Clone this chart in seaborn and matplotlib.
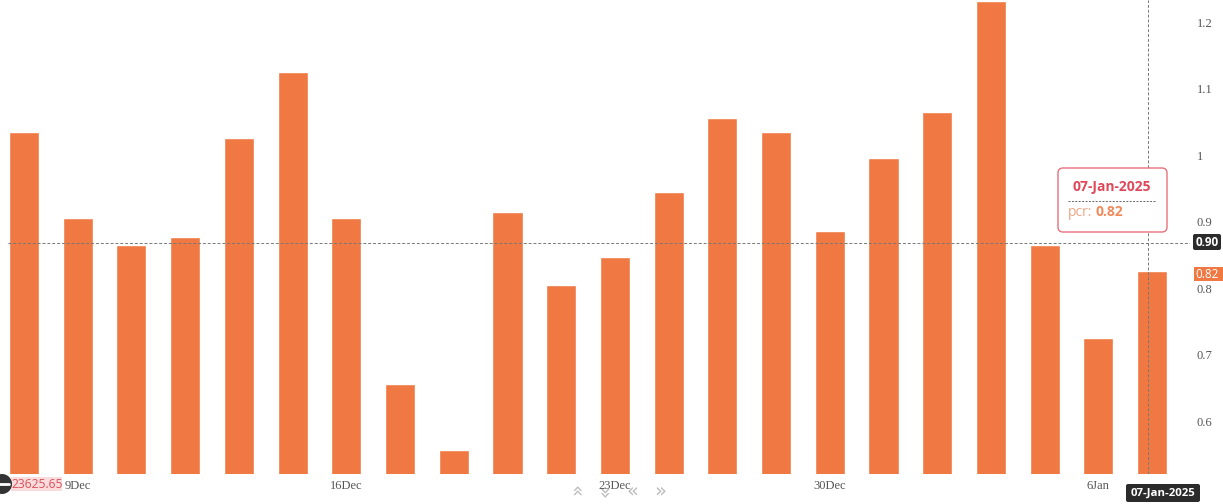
import matplotlib
matplotlib.use('Agg')
import matplotlib.pyplot as plt
from matplotlib.patches import FancyBboxPatch, Circle
import seaborn as sns
import pandas as pd

# trading days shown on the chart
dates = ['06-Dec', '09-Dec', '10-Dec', '11-Dec', '12-Dec', '13-Dec', '16-Dec', '17-Dec', '18-Dec', '19-Dec', '20-Dec',
         '23-Dec', '24-Dec', '26-Dec', '27-Dec', '30-Dec', '31-Dec', '01-Jan', '02-Jan', '03-Jan', '06-Jan', '07-Jan']
pcr = [1.035, 0.906, 0.865, 0.876, 1.025, 1.125, 0.906, 0.656, 0.557, 0.915, 0.805,
       0.846, 0.945, 1.055, 1.035, 0.885, 0.995, 1.065, 1.232, 0.865, 0.725, 0.826]
date_ticks = {'09-Dec': '9Dec', '16-Dec': '16Dec', '23-Dec': '23Dec', '30-Dec': '30Dec', '06-Jan': '6Jan'}
y_ticks = [0.6, 0.7, 0.8, 0.9, 1, 1.1, 1.2]
cross_price = 0.868
cross_date = '07-Jan'

BAR = '#F07843'
RED = '#E0485A'

sns.set_style('white')
df = pd.DataFrame({'date': dates, 'pcr': pcr})

fig = plt.figure(figsize=(12.23, 5.04), dpi=100)
ax = fig.add_axes([0, 30 / 504, 1190 / 1223, 474 / 504])
sns.barplot(data=df, x='date', y='pcr', color=BAR, saturation=1, width=0.56, ax=ax)

step = 53.72
ax.set_xlim(-24 / step, (1190 - 24) / step)
ax.set_ylim(0.5203, 1.2331)
ax.set_xlabel('')
ax.set_ylabel('')
sns.despine(ax=ax, left=True, bottom=True, right=True, top=True)

ax.yaxis.tick_right()
ax.set_yticks(y_ticks)
ax.set_yticklabels(['0.6', '0.7', '0.8', '0.9', '1', '1.1', '1.2'], family='Liberation Serif', fontsize=9, color='#555555')
ax.tick_params(axis='y', length=0, pad=5)
ax.set_xticks([dates.index(d) for d in date_ticks])
ax.set_xticklabels(list(date_ticks.values()), family='Liberation Serif', fontsize=9, color='#555555')
ax.tick_params(axis='x', length=0, pad=4)

# crosshair
ax.axhline(cross_price, color='#777777', lw=0.7, ls=(0, (3, 2)), xmin=8 / 1190)
ax.axvline(dates.index(cross_date) - 4 / step, color='#777777', lw=0.7, ls=(0, (3, 2)))

# overlay in pixel coordinates for labels and tooltip
ov = fig.add_axes([0, 0, 1, 1])
ov.set_xlim(0, 1223)
ov.set_ylim(504, 0)
ov.axis('off')
ov.patch.set_alpha(0)

ov.add_patch(FancyBboxPatch((1062, 172), 101, 56, boxstyle='round,pad=4,rounding_size=5',
                            fc='white', ec='#E8707C', lw=1.0, zorder=3))
ov.text(1112, 187.5, '07-Jan-2025', color=RED, fontsize=10, fontweight='bold', family='Open Sans', ha='center', va='center', zorder=4)
ov.plot([1068, 1156], [200.5, 200.5], color='#666666', lw=0.7, ls=(0, (2, 1.5)), zorder=4)
ov.text(1068, 213, 'pcr:', color='#F0A585', fontsize=10, family='Open Sans', ha='left', va='center', zorder=4)
ov.text(1096, 212.5, '0.82', color='#F08A5A', fontsize=10, fontweight='bold', family='Open Sans', ha='left', va='center', zorder=4)

ov.add_patch(FancyBboxPatch((1193, 234), 28, 16, boxstyle='round,pad=0,rounding_size=2', fc='#2B2B2B', ec='none'))
ov.text(1207, 242, '0.90', color='white', fontsize=8.5, fontweight='bold', family='Open Sans', ha='center', va='center')
ov.fill_between([1194, 1223], 267, 281, color=BAR, lw=0)
ov.text(1195, 274, '0.82', color='white', fontsize=8.5, family='Open Sans', ha='left', va='center')

ov.add_patch(FancyBboxPatch((1126, 484), 74, 18, boxstyle='round,pad=0,rounding_size=2', fc='#2B2B2B', ec='none'))
ov.text(1163, 493, '07-Jan-2025', color='white', fontsize=8.2, fontweight='bold', family='Open Sans', ha='center', va='center')

ov.fill_between([11, 62], 477, 491, color='#FBDCDC', lw=0)
ov.text(11, 484.5, '23625.65', color='#D9505A', fontsize=8.7, family='Open Sans', ha='left', va='center')
ov.add_patch(Circle((2, 484), 10, fc='#333333', ec='none', zorder=4))
ov.plot([-3, 9], [484, 484], color='white', lw=2, zorder=5, clip_on=True)

for x, s in zip([576, 604, 632, 660], ['\u00ab', '\u00ab', '\u00ab', '\u00bb']):
    rot = -90 if x == 576 else (90 if x == 604 else 0)
    ov.text(x, 491, s, color='#BBBBBB', fontsize=14, family='DejaVu Sans', rotation=rot, ha='center', va='center')

fig.savefig('out.png', dpi=100)
